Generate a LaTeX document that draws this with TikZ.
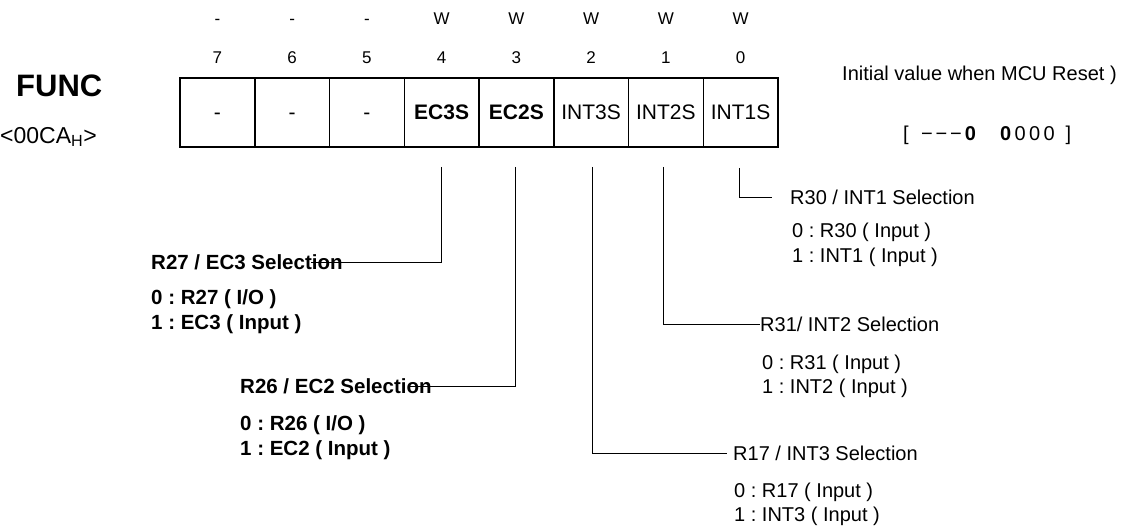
\documentclass[tikz,border=0pt]{standalone}
\usepackage{fontspec}
\setmainfont{Liberation Sans}
\frenchspacing
\begin{document}
\begin{tikzpicture}[x=1pt,y=-1pt,
  body/.style={inner sep=0pt, font=\fontsize{20}{24}\selectfont, text height=14.3pt, text depth=0pt},
  bodyb/.style={body, font=\fontsize{20.5}{24}\selectfont\bfseries},
  toplbl/.style={inner sep=0pt, font=\fontsize{17}{20}\selectfont, text height=12.2pt, text depth=0pt},
  cell/.style={draw, line width=1.4pt, minimum width=74.6pt, minimum height=69pt, inner sep=0pt, outer sep=0pt, font=\fontsize{21}{25}\selectfont, text height=15pt, text depth=0pt},
  conn/.style={draw, line width=0.9pt}
]
\useasboundingbox (0,0) rectangle (1136,529);

% title
\node[inner sep=0pt, font=\fontsize{31}{35}\selectfont\bfseries, text height=22.2pt, text depth=0pt, anchor=west] (func) at (16,85) {FUNC};
\node[body, font=\fontsize{23}{27}\selectfont, text height=16.5pt, anchor=west] (addr) at (0,135) {<00CA\textsubscript{H}>};

% register cells
\node[cell] (c7) at (217.4,112.5) {-};
\node[cell] (c6) at (292.1,112.5) {-};
\node[cell] (c5) at (366.9,112.5) {-};
\node[cell] (c4) at (441.6,112.5) {\bfseries EC3S};
\node[cell] (c3) at (516.4,112.5) {\bfseries EC2S};
\node[cell] (c2) at (591.1,112.5) {INT3S};
\node[cell] (c1) at (665.9,112.5) {INT2S};
\node[cell] (c0) at (740.6,112.5) {INT1S};

% access row and bit numbers
\foreach \c/\a/\b in {c7/-/7,c6/-/6,c5/-/5,c4/W/4,c3/W/3,c2/W/2,c1/W/1,c0/W/0}{
  \coordinate (ya\c) at (0,18);
  \coordinate (yn\c) at (0,57.5);
  \node[toplbl] (a\c) at (\c.center |- ya\c) {\a};
  \node[toplbl] (n\c) at (\c.center |- yn\c) {\b};
}

% initial value
\node[body, anchor=west] (init) at (842,73) {Initial value when MCU Reset )};
\node[body, anchor=west] (initv) at (903,133) {[\hspace{11pt}\makebox[14.5pt]{−}\makebox[14.5pt]{−}\makebox[14.5pt]{−}\makebox[14.5pt]{\bfseries 0}\hspace{20.75pt}\makebox[14.5pt]{\bfseries 0}\makebox[14.5pt]{0}\makebox[14.5pt]{0}\makebox[14.5pt]{0}\hspace{9pt}]};

% bit 4 : EC3S
\node[bodyb, anchor=west] (l4) at (151,262) {R27 / EC3 Selection};
\node[bodyb, anchor=west] (l4a) at (151,297.5) {0 : R27 ( I/O )};
\node[bodyb, anchor=west] (l4b) at (151,322.5) {1 : EC3 ( Input )};
\coordinate (s4) at (441.6,167);
\draw[conn] (s4) |- ([xshift=-32pt]l4.east);

% bit 3 : EC2S
\node[bodyb, anchor=west] (l3) at (240,386.5) {R26 / EC2 Selection};
\node[bodyb, anchor=west] (l3a) at (240,423) {0 : R26 ( I/O )};
\node[bodyb, anchor=west] (l3b) at (240,448) {1 : EC2 ( Input )};
\coordinate (s3) at (515.5,167);
\draw[conn] (s3) |- ([xshift=-23pt]l3.east);

% bit 2 : INT3S
\node[body, anchor=west] (l2) at (733,453) {R17 / INT3 Selection};
\node[body, anchor=west] (l2a) at (734,490.5) {0 : R17 ( Input )};
\node[body, anchor=west] (l2b) at (734,514.5) {1 : INT3 ( Input )};
\coordinate (s2) at (592,167);
\draw[conn] (s2) |- ([xshift=-6pt]l2.west);

% bit 1 : INT2S
\node[body, anchor=west] (l1) at (760,324) {R31/ INT2 Selection};
\node[body, anchor=west] (l1a) at (762,362.5) {0 : R31 ( Input )};
\node[body, anchor=west] (l1b) at (762,386.5) {1 : INT2 ( Input )};
\coordinate (s1) at (663.5,167);
\draw[conn] (s1) |- (l1.west);

% bit 0 : INT1S
\node[body, anchor=west] (l0) at (790,197.5) {R30 / INT1 Selection};
\node[body, anchor=west] (l0a) at (792,230) {0 : R30 ( Input )};
\node[body, anchor=west] (l0b) at (792,255) {1 : INT1 ( Input )};
\coordinate (s0) at (739,168);
\coordinate (e0) at (772,197);
\draw[conn] (s0) |- (e0);
\end{tikzpicture}
\end{document}
